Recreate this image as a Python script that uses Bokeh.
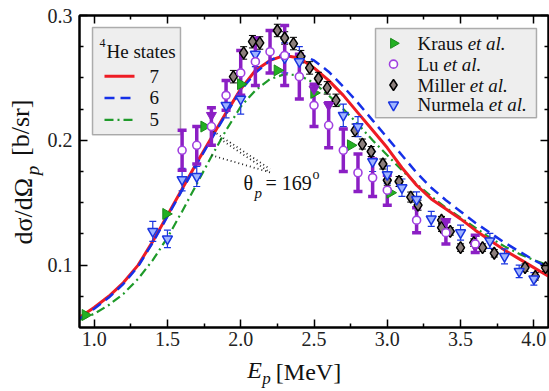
import math
from bokeh.plotting import figure
from bokeh.models import (Range1d, LinearAxis, FixedTicker, NumeralTickFormatter, Label, BoxAnnotation,
                          CustomJSTickFormatter)
from bokeh.embed import file_html
from bokeh.resources import INLINE

# ---------------- data ----------------
energy = [0.9, 1.0, 1.1, 1.2, 1.3, 1.4, 1.5, 1.6, 1.7, 1.8, 1.9, 2.0, 2.1, 2.2, 2.3, 2.4, 2.5,
          2.6, 2.7, 2.8, 2.9, 3.0, 3.1, 3.2, 3.3, 3.4, 3.5, 3.6, 3.7, 3.8, 3.9, 4.0, 4.1]
states7 = [0.058, 0.066, 0.075, 0.086, 0.100, 0.119, 0.140, 0.161, 0.182, 0.202, 0.222, 0.241, 0.256,
           0.264, 0.268, 0.266, 0.258, 0.248, 0.236, 0.222, 0.208, 0.194, 0.178, 0.164, 0.153, 0.145,
           0.137, 0.128, 0.120, 0.112, 0.105, 0.098, 0.091]
states6 = [0.057, 0.065, 0.074, 0.085, 0.099, 0.118, 0.139, 0.160, 0.181, 0.201, 0.221, 0.240, 0.254,
           0.264, 0.269, 0.269, 0.264, 0.255, 0.243, 0.230, 0.216, 0.202, 0.188, 0.174, 0.162, 0.152,
           0.143, 0.134, 0.126, 0.118, 0.111, 0.104, 0.098]
states5 = [0.056, 0.061, 0.068, 0.077, 0.089, 0.104, 0.122, 0.143, 0.165, 0.187, 0.208, 0.227, 0.240,
           0.249, 0.253, 0.252, 0.246, 0.236, 0.225, 0.213, 0.200, 0.188, 0.176, 0.165, 0.155, 0.146,
           0.138, 0.130, 0.122, 0.115, 0.109, 0.104, 0.100]

kraus_e = [0.94, 1.49, 1.75, 2.00, 2.25, 2.50, 2.75, 3.02]
kraus_y = [0.060, 0.141, 0.211, 0.245, 0.256, 0.238, 0.196, 0.158]

lu_e = [1.6, 1.7, 1.8, 1.9, 2.0, 2.1, 2.2, 2.3, 2.4, 2.5, 2.6, 2.7, 2.8, 2.9, 3.0, 3.2, 3.4, 3.6]
lu_y = [0.192, 0.196, 0.211, 0.236, 0.254, 0.263, 0.271, 0.268, 0.251, 0.228, 0.212, 0.192, 0.174,
        0.170, 0.160, 0.136, 0.126, 0.117]
lu_err = [0.016, 0.015, 0.015, 0.012, 0.018, 0.019, 0.017, 0.024, 0.018, 0.017, 0.018, 0.017, 0.015,
          0.015, 0.012, 0.010, 0.009, 0.007]
lu_tri_e = [1.8, 2.5, 2.6, 3.4, 3.6]
lu_tri_y = [0.220, 0.241, 0.228, 0.135, 0.115]

miller_e = [1.95, 2.02, 2.08, 2.13, 2.25, 2.30, 2.36, 2.41, 2.47, 2.53, 2.59, 2.65, 2.78, 2.83, 2.89,
            2.97, 3.00, 3.08, 3.16, 3.21, 3.37, 3.37, 3.43, 3.50, 3.59, 3.65, 3.73, 3.94, 4.01, 4.08]
miller_y = [0.251, 0.270, 0.279, 0.278, 0.288, 0.282, 0.2775, 0.267, 0.258, 0.2495, 0.242, 0.232,
            0.208, 0.197, 0.191, 0.181, 0.168, 0.167, 0.1545, 0.148, 0.136, 0.130, 0.127, 0.114,
            0.118, 0.114, 0.1095, 0.098, 0.091, 0.098]
miller_err = [0.005, 0.005, 0.005, 0.005, 0.005, 0.005, 0.005, 0.005, 0.005, 0.005, 0.005, 0.005,
              0.005, 0.004, 0.004, 0.004, 0.004, 0.004, 0.004, 0.004, 0.003, 0.003, 0.003, 0.003,
              0.003, 0.003, 0.003, 0.003, 0.003, 0.003]

nurmela_e = [1.4, 1.5, 1.6, 1.7, 1.9, 2.0, 2.1, 2.3, 2.4, 2.7, 2.8, 2.9, 3.0, 3.1, 3.2, 3.3, 3.5,
             3.7, 3.8, 3.9, 4.0]
nurmela_y = [0.127, 0.121, 0.1685, 0.171, 0.228, 0.233, 0.269, 0.266, 0.263, 0.220, 0.211, 0.183,
             0.1725, 0.162, 0.1526, 0.137, 0.126, 0.1194, 0.107, 0.095, 0.089]
nurmela_err = [0.008, 0.007, 0.009, 0.008, 0.010, 0.012, 0.010, 0.012, 0.012, 0.009, 0.008, 0.008,
               0.007, 0.007, 0.006, 0.006, 0.006, 0.006, 0.006, 0.005, 0.005]

# theta annotation pointer lines (start on curves, end near text)
ptr_x0 = [1.79, 1.86, 1.80]
ptr_y0 = [0.209, 0.201, 0.188]
ptr_x1 = [2.20, 2.19, 2.21]
ptr_y1 = [0.177, 0.175, 0.174]

x_major_ticks = [1.0, 1.5, 2.0, 2.5, 3.0, 3.5, 4.0]
x_minor_ticks = [1.25, 1.75, 2.25, 2.75, 3.25, 3.75]
y_major_ticks = [0.1, 0.2, 0.3]
y_minor_ticks = [0.075, 0.125, 0.15, 0.175, 0.225, 0.25, 0.275]

# ---------------- figure ----------------
W, H = 549, 390
FL, FT, FR, FB = 79, 15, 548, 329   # target frame edges in page pixels
p = figure(width=W, height=H, x_range=Range1d(0.9, 4.1), y_range=Range1d(0.05, 0.3),
           output_backend="svg", toolbar_location=None, x_axis_type=None, y_axis_type=None,
           min_border_left=FL, min_border_right=W - FR, min_border_top=FT, min_border_bottom=H - FB)
p.outline_line_color = "black"
p.outline_line_width = 2
p.background_fill_color = "white"
p.border_fill_color = "white"

SERIF = "Liberation Serif"


def px2x(px):
    return round(0.9 + (px - FL) * 3.2 / (FR - FL), 4)


def px2y(py):
    return round(0.3 - (py - FT) * 0.25 / (FB - FT), 4)


def make_axis(major, minor, labels, standoff=7):
    ax = LinearAxis(ticker=FixedTicker(ticks=major, minor_ticks=minor))
    ax.axis_line_width = 2
    ax.axis_line_color = "black"
    ax.major_tick_in = 8
    ax.major_tick_out = 0
    ax.minor_tick_in = 4
    ax.minor_tick_out = 0
    ax.major_tick_line_width = 1.5
    ax.minor_tick_line_width = 1.5
    if labels:
        ax.formatter = NumeralTickFormatter(format="0.0")
        ax.major_label_text_font = SERIF
        ax.major_label_text_font_size = "20px"
        ax.major_label_text_color = "#222222"
        ax.major_label_standoff = standoff
    else:
        ax.formatter = CustomJSTickFormatter(code="return ''")
        ax.major_label_text_font_size = "0px"
        ax.major_label_standoff = 0
    return ax


def title_axis(pos, text, size, style, standoff, vertical):
    """An axis with no line / ticks that only carries one piece of the axis title."""
    ax = LinearAxis(ticker=FixedTicker(ticks=[pos], minor_ticks=[]))
    ax.axis_line_color = None
    ax.major_tick_line_color = None
    ax.minor_tick_line_color = None
    ax.major_tick_in = 0
    ax.major_tick_out = 0
    ax.minor_tick_in = 0
    ax.minor_tick_out = 0
    ax.formatter = CustomJSTickFormatter(args=dict(t=text), code="return t")
    ax.major_label_text_font = SERIF
    ax.major_label_text_font_size = size
    ax.major_label_text_font_style = style
    ax.major_label_text_color = "#111111"
    ax.major_label_standoff = standoff
    if vertical:
        ax.major_label_orientation = "vertical"
    return ax


p.add_layout(make_axis(x_major_ticks, x_minor_ticks, True, 4), "below")
p.add_layout(make_axis(y_major_ticks, y_minor_ticks, True, 7), "left")
p.add_layout(make_axis(x_major_ticks, x_minor_ticks, False), "above")
p.add_layout(make_axis(y_major_ticks, y_minor_ticks, False), "right")

# y title: dσ/dΩ_p [b/sr]  (pieces stacked outward from the tick labels)
p.add_layout(title_axis(px2y(171), "p", "19px", "italic", 1, True), "left")
p.add_layout(title_axis(px2y(212), "dσ/dΩ", "26px", "normal", -19, True), "left")
p.add_layout(title_axis(px2y(128), "[b/sr]", "26px", "normal", -29, True), "left")

# x title: E_p [MeV]
p.add_layout(title_axis(px2x(254), "E", "24px", "italic", 8, False), "below")
p.add_layout(title_axis(px2x(308), "[MeV]", "24px", "normal", -27, False), "below")
p.add_layout(title_axis(px2x(266), "p", "17px", "italic", -19, False), "below")

RED = "#ee1c24"
BLUE = "#1530e8"
GREEN = "#1f9a2a"
PURPLE = "#8b1fc4"
NBLUE = "#1a35e0"

# curves
p.line(energy, states5, line_color=GREEN, line_width=2.2, line_dash="9 4 2 4")
p.line(energy, states7, line_color=RED, line_width=3)
p.line(energy, states6, line_color=BLUE, line_width=2.5, line_dash="10 6")

# pointer lines
p.segment(ptr_x0, ptr_y0, ptr_x1, ptr_y1, line_color="#222222", line_width=1.8, line_dash="1 3")


# error bars
def err_bars(xs, ys, es, color, width, cap):
    lo = [y - e for y, e in zip(ys, es)]
    hi = [y + e for y, e in zip(ys, es)]
    p.segment(xs, lo, xs, hi, line_color=color, line_width=width)
    p.scatter(xs, lo, marker="dash", size=cap, line_color=color, line_width=width)
    p.scatter(xs, hi, marker="dash", size=cap, line_color=color, line_width=width)


err_bars(miller_e, miller_y, miller_err, "black", 1.0, 7)
err_bars(nurmela_e, nurmela_y, nurmela_err, NBLUE, 1.2, 7)
err_bars(lu_e, lu_y, lu_err, PURPLE, 3.5, 9)

# markers
p.scatter(kraus_e, kraus_y, marker="triangle", angle=-math.pi / 2, size=11,
          fill_color="#22b022", line_color="#1a8a1a", line_width=1)
p.scatter(miller_e, miller_y, marker="diamond", size=12, fill_color="#8c7f7c",
          line_color="black", line_width=1.5)
p.scatter(nurmela_e, nurmela_y, marker="inverted_triangle", size=10, fill_color="#9fb4ff",
          line_color=NBLUE, line_width=1.5)
p.scatter(lu_tri_e, lu_tri_y, marker="inverted_triangle", size=10, fill_color=PURPLE,
          line_color=PURPLE, line_width=1)
p.scatter(lu_e, lu_y, marker="circle", size=8, fill_color="white", line_color="#a040e0",
          line_width=1.6)


def txt(px, py, s, size, style="normal", color="#111111"):
    p.add_layout(Label(x=px2x(px), y=px2y(py), text=s, text_font=SERIF, text_font_size=size,
                       text_font_style=style, text_color=color, text_align="left",
                       text_baseline="middle"))


# left legend (theory)
p.add_layout(BoxAnnotation(left=px2x(92), right=px2x(180), top=px2y(27), bottom=px2y(135),
                           fill_color="#eeeeee", fill_alpha=1.0, line_color="black",
                           line_width=1.5, level="underlay"))
txt(99, 43, "4", "12px")
txt(106, 51, "He states", "19px")
leg_rows = [76, 98, 120]
p.line([px2x(104), px2x(134)], [px2y(leg_rows[0])] * 2, line_color=RED, line_width=3)
p.line([px2x(104), px2x(134)], [px2y(leg_rows[1])] * 2, line_color=BLUE, line_width=2.5, line_dash="10 6")
p.line([px2x(104), px2x(134)], [px2y(leg_rows[2])] * 2, line_color=GREEN, line_width=2.2, line_dash="9 4 2 4")
for r, s in zip(leg_rows, ["7", "6", "5"]):
    txt(149, r, s, "19px")

# right legend (experiments)
p.add_layout(BoxAnnotation(left=px2x(375), right=px2x(536), top=px2y(28), bottom=px2y(118),
                           fill_color="#eeeeee", fill_alpha=1.0, line_color="black",
                           line_width=1.5, level="underlay"))
rows = [43, 64, 85, 105]
p.scatter([px2x(393)], [px2y(rows[0])], marker="triangle", angle=-math.pi / 2, size=10,
          fill_color="#22b022", line_color="#1a8a1a")
p.scatter([px2x(393)], [px2y(rows[1])], marker="circle", size=8, fill_color="white",
          line_color="#a040e0", line_width=1.6)
p.scatter([px2x(393)], [px2y(rows[2])], marker="diamond", size=11, fill_color="#8c7f7c",
          line_color="black", line_width=1.5)
p.scatter([px2x(393)], [px2y(rows[3])], marker="inverted_triangle", size=10, fill_color="#9fb4ff",
          line_color=NBLUE, line_width=1.5)
names = ["Kraus", "Lu", "Miller", "Nurmela"]
name_w = [2.388, 1.111, 2.5, 3.499]  # Times advance widths in em
fs = 19
for r, n, w in zip(rows, names, name_w):
    txt(417, r, n, f"{fs}px")
    txt(417 + w * fs + 0.25 * fs, r, "et al.", f"{fs}px", style="italic")

# theta annotation
txt(243, 184, "θ", "20px")
txt(254, 194, "p", "15px", style="italic")
txt(265, 184, "= 169", "20px")
txt(312, 175, "o", "14px")

open("out.html", "w").write(file_html(p, INLINE))
